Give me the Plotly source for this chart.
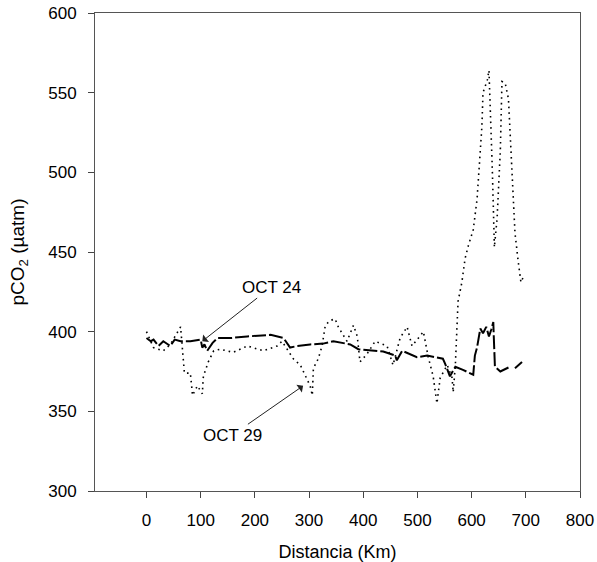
import plotly.graph_objects as go

# OCT 24 (dashed line)
oct24_x = [0, 8, 13, 22, 31, 44, 52, 63, 81, 100, 103, 107, 112, 122, 131, 155, 186, 229, 253, 265, 278,
           302, 326, 345, 376, 391, 437, 459, 462, 472, 499, 518, 547, 551, 560, 570, 584, 597, 603, 606,
           610, 616, 621, 627, 632, 636, 640, 641, 643, 653, 668, None, 680, 693]
oct24_y = [396, 394, 395, 391, 394, 391, 395, 394, 394, 395, 390, 392, 388, 393, 396, 396, 397, 398, 396, 390, 391,
           392, 392.5, 394, 392, 389, 387.5, 385, 382, 388, 384, 385, 383, 380, 372, 378, 376, 374, 373, 385,
           390, 402, 399, 403, 397, 401, 406, 396, 378, 375, 377.5, None, 377, 381]

# OCT 29 (dotted line)
oct29_x = [0, 13, 31, 44, 63, 66, 70, 81, 85, 94, 103, 105, 114, 124, 136, 160, 186, 216, 241, 250,
           260, 271, 284, 293, 297, 302, 306, 308, 317, 324, 330, 339, 348, 354, 361, 370, 382, 389,
           394, 407, 422, 444, 455, 468, 481, 490, 511, 520, 529, 536, 542, 555, 564, 566, 570, 575,
           582, 588, 594, 603, 610, 616, 619, 621, 629, 632, 634, 638, 640, 642, 647, 649, 653, 656,
           662, 668, 671, 676, 680, 686, 691, 695]
oct29_y = [400, 390, 388, 392, 403, 389, 374, 374, 360, 366, 361, 372, 381, 388, 389, 387, 391, 388, 391, 394,
           389, 383, 379, 372, 369, 366, 360, 377, 383, 391, 404, 407, 408, 403, 399, 394, 404, 397,
           381, 386, 394, 391, 379, 396, 403, 391, 400, 384, 372, 355, 371, 379, 371, 362, 379, 419,
           431, 446, 454, 464, 483, 510, 529, 550, 558, 564, 546, 504, 479, 453, 471, 483, 514, 557,
           556, 546, 525, 487, 462, 444, 431, 434]

x_ticks = [0, 100, 200, 300, 400, 500, 600, 700, 800]
y_ticks = [300, 350, 400, 450, 500, 550, 600]

FONT = "Liberation Sans, Arial, sans-serif"

fig = go.Figure()
fig.add_trace(go.Scatter(x=oct24_x, y=oct24_y, mode="lines", name="OCT 24",
                         line=dict(color="black", width=2, dash="14px,3px"), connectgaps=False))
fig.add_trace(go.Scatter(x=oct29_x, y=oct29_y, mode="lines", name="OCT 29",
                         line=dict(color="black", width=1.6, dash="1.6px,4px")))

# labels with arrows (text sits at the arrow tail)
fig.add_annotation(x=103, y=394, ax=230, ay=428, axref="x", ayref="y", xref="x", yref="y",
                   text="OCT 24", showarrow=True, arrowhead=1, arrowsize=1.6, arrowwidth=1,
                   arrowcolor="#222", font=dict(size=17, color="black", family=FONT))
fig.add_annotation(x=289, y=366, ax=158, ay=335, axref="x", ayref="y", xref="x", yref="y",
                   text="OCT 29", showarrow=True, arrowhead=1, arrowsize=1.6, arrowwidth=1,
                   arrowcolor="#222", font=dict(size=17, color="black", family=FONT))

fig.update_layout(
    width=597, height=562,
    margin=dict(l=95, r=17, t=13, b=71),
    paper_bgcolor="white", plot_bgcolor="white",
    showlegend=False,
    font=dict(family=FONT, size=17, color="black"),
)

fig.update_xaxes(range=[-95, 800], tickvals=x_ticks, ticks="outside", ticklen=6, tickcolor="#444",
                 showline=True, linecolor="#555", linewidth=1, mirror=True, showgrid=False, zeroline=False,
                 ticklabelstandoff=8, tickfont=dict(size=17, family=FONT), automargin=False,
                 title=dict(text="Distancia (Km)", standoff=15, font=dict(size=18, family=FONT)))
fig.update_yaxes(range=[300, 600], tickvals=y_ticks, ticks="outside", ticklen=6, tickcolor="#444",
                 showline=True, linecolor="#555", linewidth=1, mirror=True, showgrid=False, zeroline=False,
                 ticklabelstandoff=8, tickfont=dict(size=17, family=FONT), automargin=False,
                 title=dict(text="pCO<sub>2</sub> (µatm)", standoff=18, font=dict(size=19, family=FONT)))

fig.write_html("out.html")
